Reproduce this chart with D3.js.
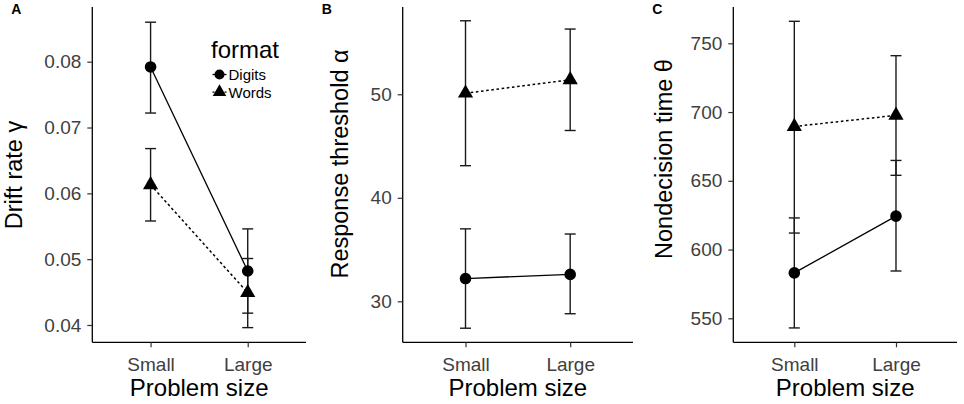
<!DOCTYPE html>
<html>
<head>
<meta charset="utf-8">
<script src="https://cdn.jsdelivr.net/npm/d3@7"></script>
<style>
  body { margin: 0; background: #fff; }
  text { font-family: "Liberation Sans", Arial, sans-serif; }
</style>
</head>
<body>
<div id="chart"></div>
<script>
// categories
const sizes = ["Small", "Large"];
const formats = ["Digits", "Words"];

// panel A - drift rate (mean, low, high per problem size)
const driftDigits = [0.0792, 0.0482];
const driftDigitsLow = [0.0722, 0.0418];
const driftDigitsHigh = [0.0860, 0.0546];
const driftWords = [0.0613, 0.0449];
const driftWordsLow = [0.0558, 0.0396];
const driftWordsHigh = [0.0668, 0.0501];
const driftTicks = [0.04, 0.05, 0.06, 0.07, 0.08];

// panel B - response threshold
const threshDigits = [32.2, 32.6];
const threshDigitsLow = [27.4, 28.8];
const threshDigitsHigh = [37.0, 36.5];
const threshWords = [50.1, 51.4];
const threshWordsLow = [43.1, 46.5];
const threshWordsHigh = [57.1, 56.3];
const threshTicks = [30, 40, 50];

// panel C - nondecision time
const ndtDigits = [583, 624.3];
const ndtDigitsLow = [543, 584.4];
const ndtDigitsHigh = [623, 664.8];
const ndtWords = [689.5, 697.6];
const ndtWordsLow = [612, 654];
const ndtWordsHigh = [766, 741];
const ndtTicks = [550, 600, 650, 700, 750];

function series(mean, low, high) {
    return sizes.map((s, i) => ({ size: s, mean: mean[i], low: low[i], high: high[i] }));
}

const panels = [
    { label: "A", title: "Drift rate \u03b3", left: 92.3, right: 306, domain: [0.03737, 0.08831],
      ticks: driftTicks, fmt: d3.format(".2f"), titleX: 22, titleY: 175,
      digits: series(driftDigits, driftDigitsLow, driftDigitsHigh),
      words: series(driftWords, driftWordsLow, driftWordsHigh), legend: true },
    { label: "B", title: "Response threshold \u03b1", left: 402.7, right: 633, domain: [26.04, 58.43],
      ticks: threshTicks, fmt: d3.format("d"), titleX: 348, titleY: 164,
      digits: series(threshDigits, threshDigitsLow, threshDigitsHigh),
      words: series(threshWords, threshWordsLow, threshWordsHigh) },
    { label: "C", title: "Nondecision time \u03b8", left: 733.3, right: 957, domain: [532.55, 776.4],
      ticks: ndtTicks, fmt: d3.format("d"), titleX: 672, titleY: 159,
      digits: series(ndtDigits, ndtDigitsLow, ndtDigitsHigh),
      words: series(ndtWords, ndtWordsLow, ndtWordsHigh) }
];

const plotTop = 7, plotBottom = 342.3;
const capW = 11;
const circleSym = d3.symbol().type(d3.symbolCircle).size(106);
const triSym = d3.symbol().type(d3.symbolTriangle).size(100);

const svg = d3.select("#chart").append("svg")
    .attr("width", 964)
    .attr("height", 404);

panels.forEach(p => {
    const g = svg.append("g");

    const x = d3.scalePoint().domain(sizes).range([p.left, p.right]).padding(0.6);
    const y = d3.scaleLinear().domain(p.domain).range([plotBottom, plotTop]);

    // axes
    const xAxis = g.append("g")
        .attr("transform", `translate(0,${plotBottom})`)
        .call(d3.axisBottom(x).tickSize(5).tickPadding(6).tickSizeOuter(0));
    const yAxis = g.append("g")
        .attr("transform", `translate(${p.left},0)`)
        .call(d3.axisLeft(y).tickValues(p.ticks).tickFormat(p.fmt).tickSize(5).tickPadding(6).tickSizeOuter(0));

    [xAxis, yAxis].forEach(a => {
        a.select(".domain").attr("stroke", "#000").attr("stroke-width", 1.3);
        a.selectAll(".tick line").attr("stroke", "#333").attr("stroke-width", 1.2);
        a.selectAll(".tick text").attr("fill", "#404040").attr("font-size", 19)
            .style("font-family", "'Liberation Sans', Arial, sans-serif");
    });
    xAxis.selectAll(".tick text").attr("dy", "0.95em");
    // stretch axis lines to full panel
    xAxis.select(".domain").attr("d", `M${p.left},0H${p.right}`);
    yAxis.select(".domain").attr("d", `M0,${plotTop}V${plotBottom}`);

    // axis titles
    g.append("text")
        .attr("x", (p.left + p.right) / 2)
        .attr("y", 396)
        .attr("text-anchor", "middle")
        .attr("font-size", 24)
        .attr("fill", "#000")
        .text("Problem size");

    g.append("text")
        .attr("transform", `translate(${p.titleX},${p.titleY}) rotate(-90)`)
        .attr("text-anchor", "middle")
        .attr("font-size", 23.5)
        .attr("fill", "#000")
        .text(p.title);

    // panel letter
    g.append("text")
        .attr("x", p.left - 81)
        .attr("y", 14)
        .attr("font-size", 14)
        .attr("font-weight", "bold")
        .text(p.label);

    const all = [
        { name: "Digits", rows: p.digits, dash: null, sym: circleSym },
        { name: "Words", rows: p.words, dash: "2.6,2.6", sym: triSym }
    ];

    // error bars
    all.forEach(s => {
        const eb = g.append("g").selectAll("g")
            .data(s.rows)
            .enter().append("g")
            .attr("stroke", "#1a1a1a")
            .attr("stroke-width", 1.4);
        eb.append("line")
            .attr("x1", d => x(d.size)).attr("x2", d => x(d.size))
            .attr("y1", d => y(d.low)).attr("y2", d => y(d.high));
        eb.append("line")
            .attr("x1", d => x(d.size) - capW / 2).attr("x2", d => x(d.size) + capW / 2)
            .attr("y1", d => y(d.low)).attr("y2", d => y(d.low));
        eb.append("line")
            .attr("x1", d => x(d.size) - capW / 2).attr("x2", d => x(d.size) + capW / 2)
            .attr("y1", d => y(d.high)).attr("y2", d => y(d.high));
    });

    // connecting lines
    const line = d3.line().x(d => x(d.size)).y(d => y(d.mean));
    all.forEach(s => {
        g.append("path")
            .datum(s.rows)
            .attr("d", line)
            .attr("fill", "none")
            .attr("stroke", "#000")
            .attr("stroke-width", s.dash ? 1.5 : 1.3)
            .attr("stroke-dasharray", s.dash);
    });

    // points
    all.forEach(s => {
        g.append("g").selectAll("path")
            .data(s.rows)
            .enter().append("path")
            .attr("d", s.sym)
            .attr("transform", d => `translate(${x(d.size)},${y(d.mean)})`)
            .attr("fill", "#000");
    });

    // legend
    if (p.legend) {
        const lg = g.append("g");
        lg.append("text")
            .attr("x", 211)
            .attr("y", 58)
            .attr("font-size", 24)
            .text("format");
        const items = lg.selectAll("g.item")
            .data(all)
            .enter().append("g")
            .attr("class", "item")
            .attr("transform", (d, i) => `translate(219.5,${74.5 + i * 17.6})`);
        items.append("line")
            .attr("x1", -7).attr("x2", 7)
            .attr("stroke", "#000")
            .attr("stroke-width", 1.3)
            .attr("stroke-dasharray", d => d.dash ? "2,2" : null);
        items.append("path")
            .attr("d", (d, i) => i === 0
                ? d3.symbol().type(d3.symbolCircle).size(80)()
                : d3.symbol().type(d3.symbolTriangle).size(80)())
            .attr("fill", "#000");
        items.append("text")
            .attr("x", 9)
            .attr("y", 5.5)
            .attr("font-size", 15)
            .attr("fill", "#000")
            .text(d => d.name);
    }
});
</script>
</body>
</html>
